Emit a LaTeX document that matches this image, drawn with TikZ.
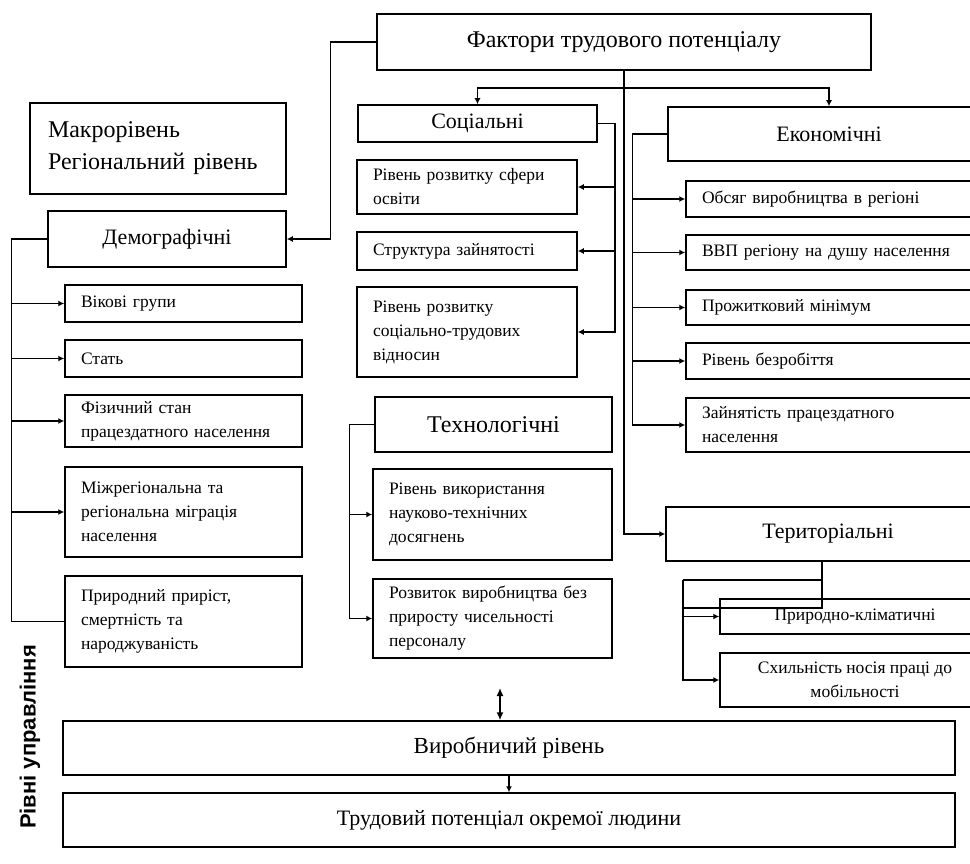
\documentclass[tikz,border=0pt]{standalone}
\usepackage{fontspec}
\setmainfont{Liberation Serif}
\setsansfont{Liberation Sans}
\usetikzlibrary{arrows.meta}

\begin{document}
\begin{tikzpicture}[
  x=1pt, y=-1pt,
  every node/.style={font=\fontsize{17.5}{24}\selectfont},
  box/.style={rectangle, draw, line width=1.5pt, inner sep=0pt, align=center},
  head/.style={box, font=\fontsize{22}{30}\selectfont},
  leaf/.style={box, align=left, inner xsep=16pt, text width=#1},
  link/.style={line width=1.5pt},
  arr/.style={link, -{Latex[length=6pt, width=6pt]}},
  dbl/.style={link, {Latex[length=8pt, width=7pt]}-{Latex[length=8pt, width=7pt]}}
]
  \useasboundingbox (0,0) rectangle (970,864);
  \clip (0,0) rectangle (970,864);

  \node[head, minimum width=494, minimum height=56, font=\fontsize{24}{30}\selectfont] (fact) at (624,42) {Фактори трудового потенціалу};
  \node[box, align=left, text width=220, inner xsep=18pt, minimum height=91, font=\fontsize{24}{32}\selectfont] (macro) at (158,148.5) {Макрорівень\\Регіональний рівень};

  \node[head, minimum width=238, minimum height=56] (demo) at (167,239) {Демографічні};
  \node[leaf=205, minimum height=37] (vik) at (183.5,303.5) {Вікові групи};
  \node[leaf=205, minimum height=37] (stat) at (183.5,358.5) {Стать};
  \node[leaf=205, minimum height=52] (fiz) at (183.5,421) {Фізичний стан\\працездатного населення};
  \node[leaf=205, minimum height=90] (migr) at (183.5,512) {Міжрегіональна та\\регіональна міграція\\населення};
  \node[leaf=205, minimum height=91] (pryr) at (183.5,621.5) {Природний приріст,\\смертність та\\народжуваність};

  \node[head, minimum width=239, minimum height=37] (soc) at (477.5,123.5) {Соціальні};
  \node[leaf=188, minimum height=54] (osv) at (467,187) {Рівень розвитку сфери\\освіти};
  \node[leaf=188, minimum height=38] (strukt) at (467,251) {Структура зайнятості};
  \node[leaf=188, minimum height=90] (vidn) at (467,332) {Рівень розвитку\\соціально-трудових\\відносин};

  \node[head, minimum width=237, minimum height=55, font=\fontsize{24}{30}\selectfont] (tech) at (493.5,424.5) {Технологічні};
  \node[leaf=207, minimum height=91] (vykor) at (492.5,514.5) {Рівень використання\\науково-технічних\\досягнень};
  \node[leaf=207, minimum height=79] (rozv) at (492.5,618.5) {Розвиток виробництва без\\приросту чисельності\\персоналу};

  \node[head, minimum width=322, minimum height=54] (econ) at (829,134) {Економічні};
  \node[leaf=272, minimum height=36] (obs) at (838,199) {Обсяг виробництва в регіоні};
  \node[leaf=272, minimum height=35] (vvp) at (838,252.5) {ВВП регіону на душу населення};
  \node[leaf=272, minimum height=35] (proz) at (838,307.5) {Прожитковий мінімум};
  \node[leaf=272, minimum height=36] (bezr) at (838,361) {Рівень безробіття};
  \node[leaf=272, minimum height=54] (zain) at (838,425) {Зайнятість працездатного\\населення};

  \node[head, minimum width=324, minimum height=54] (ter) at (828,534) {Територіальні};
  \node[box, minimum width=270, minimum height=35] (klim) at (855,616.5) {Природно-кліматичні};
  \node[box, minimum width=270, minimum height=54] (skhyl) at (855,680) {Схильність носія праці до\\мобільності};

  \node[head, minimum width=892, minimum height=54, font=\fontsize{23}{30}\selectfont] (vyrob) at (509,748) {Виробничий рівень};
  \node[head, minimum width=892, minimum height=54] (trud) at (509,820) {Трудовий потенціал окремої людини};
  \node[rotate=90, font=\sffamily\bfseries\fontsize{22}{26}\selectfont] (rivni) at (30,737) {Рівні управління};

  \draw[arr] (fact.west) -- ++(-46,0) |- (demo.east);
  \coordinate (hub) at (624,88);
  \draw[arr] (hub) -| (soc.north);
  \draw[arr] (hub) -| (econ.north);
  \draw[arr] (fact.south) |- (ter.west);

  \draw[link] (demo.west) -- ++(-36,0) coordinate (dbus);
  \draw[link] (dbus) |- (pryr.west);
  \foreach \n in {vik,stat,fiz,migr} \draw[arr] (dbus |- \n.west) -- (\n.west);

  \draw[link] (soc.east) -- ++(17,0) coordinate (sbus);
  \draw[arr] (sbus) |- (vidn.east);
  \foreach \n in {osv,strukt} \draw[arr] (sbus |- \n.east) -- (\n.east);

  \draw[link] (tech.west) -- ++(-25,0) coordinate (tbus);
  \draw[arr] (tbus) |- (rozv.west);
  \draw[arr] (tbus |- vykor.west) -- (vykor.west);

  \draw[link] (econ.west) -- ++(-35,0) coordinate (ebus);
  \draw[arr] (ebus) |- (zain.west);
  \foreach \n in {obs,vvp,proz,bezr} \draw[arr] (ebus |- \n.west) -- (\n.west);

  \coordinate (tdrop) at ([xshift=-6pt]ter.south);
  \coordinate (rbus) at (683,580);
  \draw[link] (tdrop) |- ++(-139,46);
  \draw[link] (tdrop |- rbus) -- (rbus);
  \draw[arr] (rbus) |- (skhyl.west);
  \draw[arr] (rbus |- klim.west) -- (klim.west);

  \coordinate (vtop) at (500,688);
  \draw[dbl] (vtop) -- (vtop |- vyrob.north);
  \draw[arr] (vyrob.south) -- (trud.north);
\end{tikzpicture}
\end{document}
